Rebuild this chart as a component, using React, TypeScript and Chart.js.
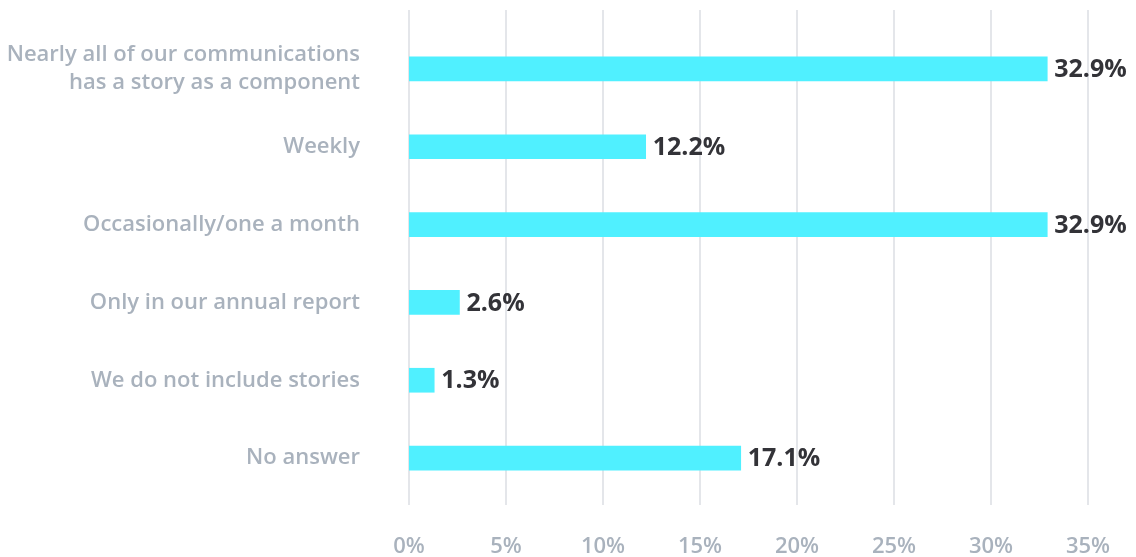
import React, { useEffect, useRef } from "react";
import { Chart, registerables } from "chart.js";

Chart.register(...registerables);

const categories: (string | string[])[] = [
  ["Nearly all of our communications", "has a story as a component"],
  "Weekly",
  "Occasionally/one a month",
  "Only in our annual report",
  "We do not include stories",
  "No answer",
];
const values = [32.9, 12.2, 32.9, 2.6, 1.3, 17.1];
const xTicks = [0, 5, 10, 15, 20, 25, 30, 35];

const FONT = "'Open Sans', Lato, sans-serif";
const LABEL_COLOR = "#a9b2bd";
const GRID_COLOR = "#e4e6ea";

const gridPlugin = {
  id: "customGrid",
  beforeDatasetsDraw(chart: any) {
    const { ctx, chartArea, scales } = chart;
    const xs = scales.x;
    ctx.save();
    ctx.strokeStyle = GRID_COLOR;
    ctx.lineWidth = 2;
    xTicks.forEach((t) => {
      const x = Math.round(xs.getPixelForValue(t));
      ctx.beginPath();
      ctx.moveTo(x, chartArea.top - 20);
      ctx.lineTo(x, chartArea.bottom + 8);
      ctx.stroke();
    });
    ctx.restore();
  },
};

const labelPlugin = {
  id: "valueLabels",
  afterDatasetsDraw(chart: any) {
    const { ctx } = chart;
    const meta = chart.getDatasetMeta(0);
    ctx.save();
    ctx.font = `bold 25px ${FONT}`;
    ctx.fillStyle = "#333338";
    ctx.textAlign = "left";
    ctx.textBaseline = "middle";
    meta.data.forEach((el: any, i: number) => {
      ctx.fillText(values[i].toFixed(1) + "%", el.x + 7, el.y + 1);
    });
    ctx.restore();
  },
};

export default function App() {
  const ref = useRef<HTMLCanvasElement>(null);
  useEffect(() => {
    if (!ref.current) return;
    const chart = new Chart(ref.current, {
      type: "bar",
      data: {
        labels: categories,
        datasets: [
          {
            data: values,
            backgroundColor: "#50f0ff",
            borderWidth: 0,
            barThickness: 24,
          },
        ],
      },
      options: {
        indexAxis: "y",
        animation: false,
        responsive: true,
        maintainAspectRatio: false,
        layout: { padding: { left: 8, top: 30, right: 48, bottom: 0 } },
        plugins: { legend: { display: false }, tooltip: { enabled: false } },
        scales: {
          x: {
            min: 0,
            max: 35,
            grid: { display: false, drawTicks: false },
            border: { display: false },
            afterFit: (s: any) => {
              s.height = 60;
              s.paddingLeft = 0;
              s.paddingRight = 0;
            },
            ticks: {
              stepSize: 5,
              padding: 37,
              color: LABEL_COLOR,
              font: { family: FONT, size: 22, weight: "600" },
              callback: (v: any) => v + "%",
            },
          },
          y: {
            grid: { display: false, drawTicks: false },
            border: { display: false },
            afterFit: (s: any) => {
              s.width = 401;
              s.paddingTop = 0;
              s.paddingBottom = 0;
            },
            ticks: {
              padding: 49,
              color: LABEL_COLOR,
              font: { family: FONT, size: 22, weight: "600", lineHeight: 1.25 },
            },
          },
        },
      },
      plugins: [gridPlugin, labelPlugin],
    });
    return () => chart.destroy();
  }, []);
  return (
    <div style={{ position: "fixed", left: 0, top: 0, width: 1136, height: 557, background: "#fff" }}>
      <canvas ref={ref} />
    </div>
  );
}
